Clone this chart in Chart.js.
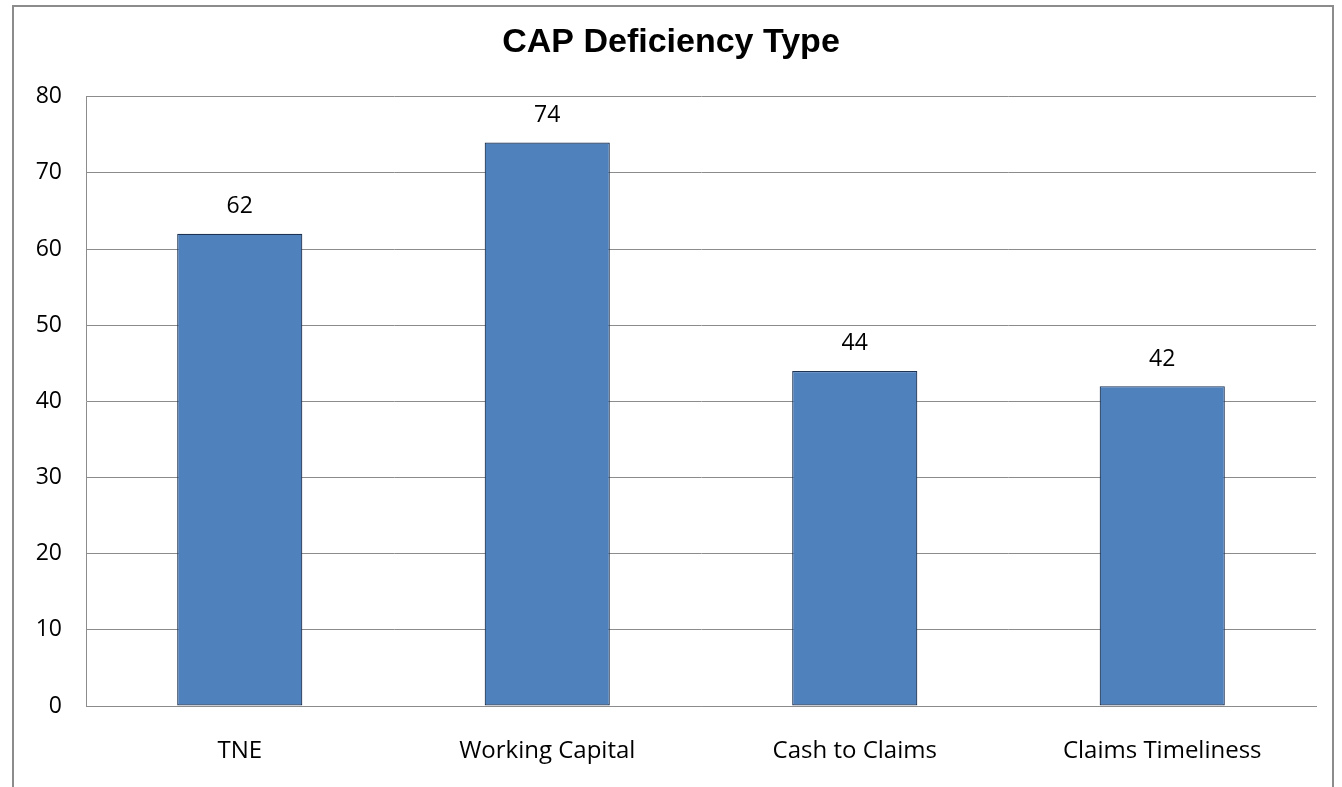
<!DOCTYPE html>
<html>
<head>
<meta charset="utf-8">
<script src="https://cdn.jsdelivr.net/npm/chart.js@4"></script>
<style>
  html, body { margin: 0; padding: 0; background: #fff; }
  #frame {
    position: absolute; left: 12px; top: 5px; width: 1322px; height: 790px;
    border: 2px solid #8c8c8c; border-bottom: none; box-sizing: border-box;
  }
  #wrap { position: absolute; left: 0; top: 0; width: 1342px; height: 787px; }
</style>
</head>
<body>
<div id="frame"></div>
<div id="wrap"><canvas id="myChart1" width="1342" height="787"></canvas></div>
<script>
const categories = ['TNE', 'Working Capital', 'Cash to Claims', 'Claims Timeliness'];
const counts = [62, 74, 44, 42];
const yTicks = [0, 10, 20, 30, 40, 50, 60, 70, 80];

// draws the number over each bar
const barValues = {
    id: 'barValues',
    afterDatasetsDraw(chart) {
        const ctx = chart.ctx;
        ctx.save();
        ctx.font = '23px "Open Sans", sans-serif';
        ctx.fillStyle = '#000';
        ctx.textAlign = 'center';
        ctx.textBaseline = 'middle';
        chart.getDatasetMeta(0).data.forEach((bar, i) => {
            ctx.fillText(counts[i], bar.x, bar.y - 27);
        });
        ctx.restore();
    }
};

const ctx = document.getElementById('myChart1');

new Chart(ctx, {
    type: 'bar',
    data: {
        labels: categories,
        datasets: [{
            label: 'CAP Deficiency Type',
            data: counts,
            backgroundColor: '#4F81BD',
            borderColor: '#1C3353',
            borderWidth: 1.2,
            borderSkipped: false,
            barPercentage: 0.407,
            categoryPercentage: 1
        }]
    },
    options: {
        responsive: false,
        animation: false,
        layout: { padding: { left: 26, right: 26, top: 0, bottom: 0 } },
        plugins: {
            legend: { display: false },
            tooltip: { enabled: false },
            title: {
                display: true,
                text: 'CAP Deficiency Type',
                color: '#000',
                font: { family: "'Liberation Sans', Arial, sans-serif", size: 34, weight: 'bold' },
                padding: { top: 22, bottom: 34 }
            }
        },
        scales: {
            y: {
                min: 0,
                max: 80,
                afterBuildTicks: (s) => { s.ticks = yTicks.map(v => ({ value: v })); },
                afterFit: (s) => { s.width = 60; },
                ticks: { color: '#000', font: { family: "'Open Sans', sans-serif", size: 23 }, padding: 24 },
                grid: { color: '#8c8c8c', drawTicks: false, lineWidth: 1 },
                border: { color: '#8c8c8c' }
            },
            x: {
                afterFit: (s) => { s.height = 81; },
                ticks: { color: '#000', font: { family: "'Open Sans', sans-serif", size: 24 }, padding: 31, maxRotation: 0 },
                grid: { display: false, drawTicks: false },
                border: { color: '#8c8c8c' }
            }
        }
    },
    plugins: [barValues]
});
</script>
</body>
</html>
